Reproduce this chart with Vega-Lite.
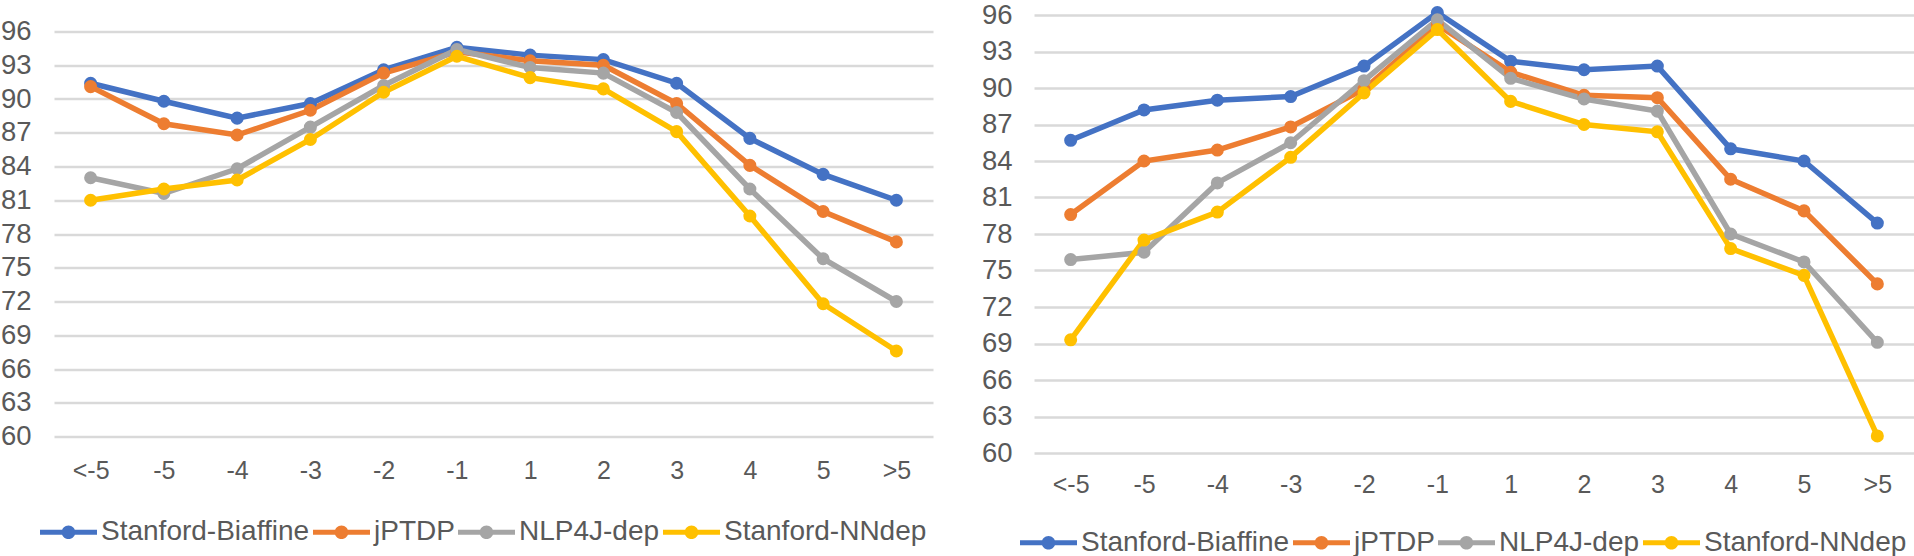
{
  "$schema": "https://vega.github.io/schema/vega-lite/v6.json",
  "padding": {"top": 1, "left": 0, "right": 0, "bottom": 0},
  "background": "white",
  "bounds": "flush",
  "center": true,
  "spacing": 101,
  "config": {
    "view": {"stroke": null},
    "font": "Liberation Sans",
    "axis": {"labelColor": "#595959", "labelFont": "Liberation Sans", "domain": false, "ticks": false, "tickSize": 0, "title": null},
    "legend": {"labelFont": "Liberation Sans", "labelColor": "#595959"}
  },
  "datasets": {
    "left": [
      {"dist": "<-5", "model": "Stanford-Biaffine", "acc": 91.4},
      {"dist": "-5", "model": "Stanford-Biaffine", "acc": 89.8},
      {"dist": "-4", "model": "Stanford-Biaffine", "acc": 88.3},
      {"dist": "-3", "model": "Stanford-Biaffine", "acc": 89.6},
      {"dist": "-2", "model": "Stanford-Biaffine", "acc": 92.6},
      {"dist": "-1", "model": "Stanford-Biaffine", "acc": 94.6},
      {"dist": "1", "model": "Stanford-Biaffine", "acc": 93.9},
      {"dist": "2", "model": "Stanford-Biaffine", "acc": 93.5},
      {"dist": "3", "model": "Stanford-Biaffine", "acc": 91.4},
      {"dist": "4", "model": "Stanford-Biaffine", "acc": 86.5},
      {"dist": "5", "model": "Stanford-Biaffine", "acc": 83.3},
      {"dist": ">5", "model": "Stanford-Biaffine", "acc": 81.0},
      {"dist": "<-5", "model": "jPTDP", "acc": 91.1},
      {"dist": "-5", "model": "jPTDP", "acc": 87.8},
      {"dist": "-4", "model": "jPTDP", "acc": 86.8},
      {"dist": "-3", "model": "jPTDP", "acc": 89.0},
      {"dist": "-2", "model": "jPTDP", "acc": 92.3},
      {"dist": "-1", "model": "jPTDP", "acc": 94.2},
      {"dist": "1", "model": "jPTDP", "acc": 93.4},
      {"dist": "2", "model": "jPTDP", "acc": 93.0},
      {"dist": "3", "model": "jPTDP", "acc": 89.6},
      {"dist": "4", "model": "jPTDP", "acc": 84.1},
      {"dist": "5", "model": "jPTDP", "acc": 80.0},
      {"dist": ">5", "model": "jPTDP", "acc": 77.3},
      {"dist": "<-5", "model": "NLP4J-dep", "acc": 83.0},
      {"dist": "-5", "model": "NLP4J-dep", "acc": 81.6},
      {"dist": "-4", "model": "NLP4J-dep", "acc": 83.8},
      {"dist": "-3", "model": "NLP4J-dep", "acc": 87.5},
      {"dist": "-2", "model": "NLP4J-dep", "acc": 91.2},
      {"dist": "-1", "model": "NLP4J-dep", "acc": 94.4},
      {"dist": "1", "model": "NLP4J-dep", "acc": 92.8},
      {"dist": "2", "model": "NLP4J-dep", "acc": 92.3},
      {"dist": "3", "model": "NLP4J-dep", "acc": 88.8},
      {"dist": "4", "model": "NLP4J-dep", "acc": 82.0},
      {"dist": "5", "model": "NLP4J-dep", "acc": 75.8},
      {"dist": ">5", "model": "NLP4J-dep", "acc": 72.0},
      {"dist": "<-5", "model": "Stanford-NNdep", "acc": 81.0},
      {"dist": "-5", "model": "Stanford-NNdep", "acc": 82.0},
      {"dist": "-4", "model": "Stanford-NNdep", "acc": 82.8},
      {"dist": "-3", "model": "Stanford-NNdep", "acc": 86.4},
      {"dist": "-2", "model": "Stanford-NNdep", "acc": 90.6},
      {"dist": "-1", "model": "Stanford-NNdep", "acc": 93.8},
      {"dist": "1", "model": "Stanford-NNdep", "acc": 91.9},
      {"dist": "2", "model": "Stanford-NNdep", "acc": 90.9},
      {"dist": "3", "model": "Stanford-NNdep", "acc": 87.1},
      {"dist": "4", "model": "Stanford-NNdep", "acc": 79.6},
      {"dist": "5", "model": "Stanford-NNdep", "acc": 71.8},
      {"dist": ">5", "model": "Stanford-NNdep", "acc": 67.6}
    ],
    "right": [
      {"dist": "<-5", "model": "Stanford-Biaffine", "acc": 85.7},
      {"dist": "-5", "model": "Stanford-Biaffine", "acc": 88.2},
      {"dist": "-4", "model": "Stanford-Biaffine", "acc": 89.0},
      {"dist": "-3", "model": "Stanford-Biaffine", "acc": 89.3},
      {"dist": "-2", "model": "Stanford-Biaffine", "acc": 91.8},
      {"dist": "-1", "model": "Stanford-Biaffine", "acc": 96.2},
      {"dist": "1", "model": "Stanford-Biaffine", "acc": 92.2},
      {"dist": "2", "model": "Stanford-Biaffine", "acc": 91.5},
      {"dist": "3", "model": "Stanford-Biaffine", "acc": 91.8},
      {"dist": "4", "model": "Stanford-Biaffine", "acc": 85.0},
      {"dist": "5", "model": "Stanford-Biaffine", "acc": 84.0},
      {"dist": ">5", "model": "Stanford-Biaffine", "acc": 78.9},
      {"dist": "<-5", "model": "jPTDP", "acc": 79.6},
      {"dist": "-5", "model": "jPTDP", "acc": 84.0},
      {"dist": "-4", "model": "jPTDP", "acc": 84.9},
      {"dist": "-3", "model": "jPTDP", "acc": 86.8},
      {"dist": "-2", "model": "jPTDP", "acc": 89.9},
      {"dist": "-1", "model": "jPTDP", "acc": 95.2},
      {"dist": "1", "model": "jPTDP", "acc": 91.3},
      {"dist": "2", "model": "jPTDP", "acc": 89.4},
      {"dist": "3", "model": "jPTDP", "acc": 89.2},
      {"dist": "4", "model": "jPTDP", "acc": 82.5},
      {"dist": "5", "model": "jPTDP", "acc": 79.9},
      {"dist": ">5", "model": "jPTDP", "acc": 73.9},
      {"dist": "<-5", "model": "NLP4J-dep", "acc": 75.9},
      {"dist": "-5", "model": "NLP4J-dep", "acc": 76.5},
      {"dist": "-4", "model": "NLP4J-dep", "acc": 82.2},
      {"dist": "-3", "model": "NLP4J-dep", "acc": 85.5},
      {"dist": "-2", "model": "NLP4J-dep", "acc": 90.6},
      {"dist": "-1", "model": "NLP4J-dep", "acc": 95.6},
      {"dist": "1", "model": "NLP4J-dep", "acc": 90.8},
      {"dist": "2", "model": "NLP4J-dep", "acc": 89.1},
      {"dist": "3", "model": "NLP4J-dep", "acc": 88.1},
      {"dist": "4", "model": "NLP4J-dep", "acc": 78.0},
      {"dist": "5", "model": "NLP4J-dep", "acc": 75.7},
      {"dist": ">5", "model": "NLP4J-dep", "acc": 69.1},
      {"dist": "<-5", "model": "Stanford-NNdep", "acc": 69.3},
      {"dist": "-5", "model": "Stanford-NNdep", "acc": 77.5},
      {"dist": "-4", "model": "Stanford-NNdep", "acc": 79.8},
      {"dist": "-3", "model": "Stanford-NNdep", "acc": 84.3},
      {"dist": "-2", "model": "Stanford-NNdep", "acc": 89.6},
      {"dist": "-1", "model": "Stanford-NNdep", "acc": 94.8},
      {"dist": "1", "model": "Stanford-NNdep", "acc": 88.9},
      {"dist": "2", "model": "Stanford-NNdep", "acc": 87.0},
      {"dist": "3", "model": "Stanford-NNdep", "acc": 86.4},
      {"dist": "4", "model": "Stanford-NNdep", "acc": 76.8},
      {"dist": "5", "model": "Stanford-NNdep", "acc": 74.6},
      {"dist": ">5", "model": "Stanford-NNdep", "acc": 61.4}
    ]
  },
  "hconcat": [
    {
      "width": 879,
      "height": 405,
      "data": {"name": "left"},
      "encoding": {
        "x": {"field": "dist", "type": "ordinal", "sort": ["<-5","-5","-4","-3","-2","-1","1","2","3","4","5",">5"], "axis": {"labelAngle": 0, "labelFontSize": 25, "labelPadding": 22, "grid": false}},
        "y": {"field": "acc", "type": "quantitative", "scale": {"domain": [60, 96], "nice": false, "zero": false}, "axis": {"values": [60,63,66,69,72,75,78,81,84,87,90,93,96], "labelFontSize": 27.5, "labelPadding": 23, "gridColor": "#D9D9D9", "gridWidth": 2.3}},
        "color": {"field": "model", "type": "nominal",
          "scale": {"domain": ["Stanford-Biaffine","jPTDP","NLP4J-dep","Stanford-NNdep"], "range": ["#4472C4","#ED7D31","#A5A5A5","#FFC000"]},
          "legend": {"orient": "none", "legendX": -14, "legendY": 472, "direction": "horizontal", "columns": 4, "title": null, "labelFontSize": 28, "labelLimit": 500, "labelOffset": 4, "columnPadding": 3, "symbolType": "M-1,-0.09H1V0.09H-1Z M-0.24,0A0.24,0.24 0 1,1 0.24,0A0.24,0.24 0 1,1 -0.24,0Z", "symbolSize": 3249, "symbolStrokeWidth": 0}}
      },
      "layer": [
        {"mark": {"type": "line", "strokeWidth": 5.5}},
        {"mark": {"type": "point", "filled": true, "size": 170, "opacity": 1}}
      ]
    },
    {
      "width": 880,
      "height": 438,
      "data": {"name": "right"},
      "encoding": {
        "x": {"field": "dist", "type": "ordinal", "sort": ["<-5","-5","-4","-3","-2","-1","1","2","3","4","5",">5"], "axis": {"labelAngle": 0, "labelFontSize": 25, "labelPadding": 19.5, "grid": false}},
        "y": {"field": "acc", "type": "quantitative", "scale": {"domain": [60, 96], "nice": false, "zero": false}, "axis": {"values": [60,63,66,69,72,75,78,81,84,87,90,93,96], "labelFontSize": 27.5, "labelPadding": 22, "gridColor": "#D9D9D9", "gridWidth": 2.3}},
        "color": {"field": "model", "type": "nominal",
          "scale": {"domain": ["Stanford-Biaffine","jPTDP","NLP4J-dep","Stanford-NNdep"], "range": ["#4472C4","#ED7D31","#A5A5A5","#FFC000"]},
          "legend": {"orient": "none", "legendX": -14, "legendY": 499, "direction": "horizontal", "columns": 4, "title": null, "labelFontSize": 28, "labelLimit": 500, "labelOffset": 4, "columnPadding": 3, "symbolType": "M-1,-0.09H1V0.09H-1Z M-0.24,0A0.24,0.24 0 1,1 0.24,0A0.24,0.24 0 1,1 -0.24,0Z", "symbolSize": 3249, "symbolStrokeWidth": 0}}
      },
      "layer": [
        {"mark": {"type": "line", "strokeWidth": 5.5}},
        {"mark": {"type": "point", "filled": true, "size": 170, "opacity": 1}}
      ]
    }
  ],
  "resolve": {"scale": {"color": "independent", "x": "independent", "y": "independent"}, "legend": {"color": "independent"}}
}
